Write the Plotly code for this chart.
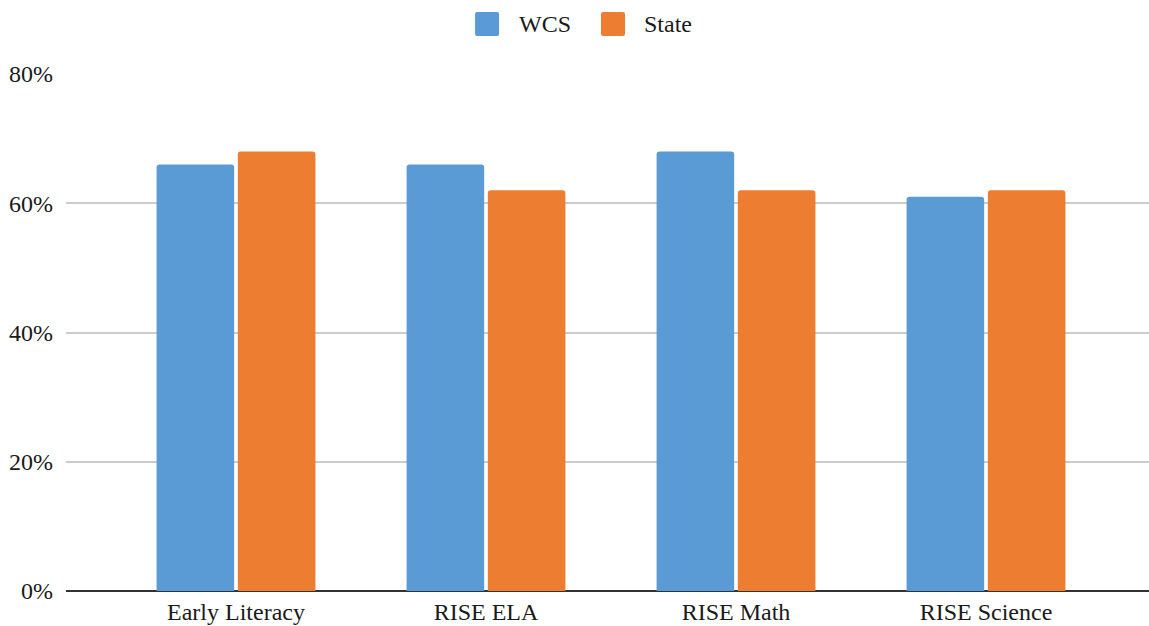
import plotly.graph_objects as go

categories = ["Early Literacy", "RISE ELA", "RISE Math", "RISE Science"]
wcs = [66, 66, 68, 61]
state = [68, 62, 62, 62]
y_ticks = [0, 20, 40, 60, 80]
y_tick_text = [f"{v}%" for v in y_ticks]

FONT = "Liberation Serif"
BLUE = "#5B9BD5"
ORANGE = "#ED7D31"
TEXT = "#1A1A1A"

fig = go.Figure()
fig.add_trace(go.Bar(name="WCS", x=categories, y=wcs, marker_color=BLUE,
                     marker_line_width=0, showlegend=False))
fig.add_trace(go.Bar(name="State", x=categories, y=state, marker_color=ORANGE,
                     marker_line_width=0, showlegend=False))


def swatch_path(x0, y0, x1, y1, rx, ry):
    # rounded rectangle in paper coordinates
    return (f"M{x0 + rx},{y0} L{x1 - rx},{y0} Q{x1},{y0} {x1},{y0 + ry} "
            f"L{x1},{y1 - ry} Q{x1},{y1} {x1 - rx},{y1} L{x0 + rx},{y1} "
            f"Q{x0},{y1} {x0},{y1 - ry} L{x0},{y0 + ry} Q{x0},{y0} {x0 + rx},{y0} Z")


# legend row above the plot: swatch + label for each series
legend_items = [("WCS", BLUE, 0.3777, 0.4164), ("State", ORANGE, 0.4940, 0.5319)]
sw_w, sw_y0, sw_y1 = 0.0222, 1.0735, 1.1199
shapes = []
annotations = []
for label, color, sx, tx in legend_items:
    shapes.append(dict(type="path", xref="paper", yref="paper",
                       path=swatch_path(sx, sw_y0, sx + sw_w, sw_y1, 0.002, 0.004),
                       fillcolor=color, line=dict(width=0)))
    annotations.append(dict(text=label, xref="paper", yref="paper", x=tx,
                            y=(sw_y0 + sw_y1) / 2, xanchor="left", yanchor="middle",
                            showarrow=False, font=dict(size=24, color=TEXT)))

fig.update_layout(
    width=1149, height=626,
    margin=dict(l=66, r=0, t=74, b=35),
    paper_bgcolor="white", plot_bgcolor="white",
    barmode="group", bargap=0.35, bargroupgap=0.045,
    barcornerradius=3,
    font=dict(family=FONT, size=24, color=TEXT),
    showlegend=False,
    shapes=shapes,
    annotations=annotations,
    xaxis=dict(type="category", range=[-0.68, 3.652], showgrid=False,
               showline=False, ticks="", tickfont=dict(size=24),
               ticklabelstandoff=4),
    yaxis=dict(range=[0, 80], tickvals=y_ticks, ticktext=y_tick_text,
               showgrid=True, gridcolor="#CCCCCC", gridwidth=1.5,
               zeroline=True, zerolinecolor="#333333", zerolinewidth=1.5,
               showline=False, ticks="", tickfont=dict(size=24),
               ticklabelstandoff=12),
)

fig.write_html("out.html")
